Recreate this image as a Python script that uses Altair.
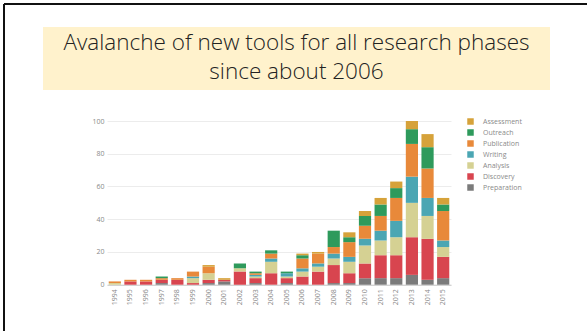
import altair as alt
import pandas as pd

# Tools launched per year, by research phase
years = list(range(1994, 2016))
phases = ["Assessment", "Outreach", "Publication", "Writing",
          "Analysis", "Discovery", "Preparation"]
colors = ["#D6A23A", "#2E9A5C", "#E8893A", "#4BA6B3",
          "#D5D193", "#D8454F", "#7B7B7B"]

preparation = [0, 0, 0, 1, 0, 0, 1, 2, 0, 1, 0, 1, 0, 0, 1, 1, 4, 4, 4, 6, 3, 4]
discovery   = [0, 2, 2, 2, 3, 1, 2, 1, 8, 3, 7, 3, 5, 8, 11, 6, 9, 14, 14, 23, 25, 13]
analysis    = [1, 0, 0, 0, 0, 3, 4, 0, 2, 1, 7, 1, 3, 3, 4, 7, 11, 9, 11, 21, 14, 6]
writing     = [0, 0, 0, 0, 0, 1, 0, 0, 0, 1, 2, 2, 2, 2, 3, 3, 4, 6, 10, 16, 11, 4]
publication = [1, 1, 1, 1, 1, 3, 4, 0, 0, 1, 3, 0, 6, 6, 4, 9, 8, 9, 14, 20, 18, 18]
outreach    = [0, 0, 0, 1, 0, 0, 0, 0, 3, 1, 2, 1, 2, 0, 10, 3, 6, 7, 6, 9, 13, 4]
assessment  = [0, 0, 0, 0, 0, 0, 1, 1, 0, 0, 0, 0, 1, 1, 0, 3, 3, 4, 4, 5, 8, 4]

title_lines = ["Avalanche of new tools for all research phases", "since about 2006"]

series = {
    "Preparation": preparation, "Discovery": discovery, "Analysis": analysis,
    "Writing": writing, "Publication": publication, "Outreach": outreach,
    "Assessment": assessment,
}
stack_rank = {name: i for i, name in enumerate(series)}
rows = []
for name, vals in series.items():
    for yr, v in zip(years, vals):
        rows.append({"year": str(yr), "phase": name, "count": v, "rank": stack_rank[name]})
df = pd.DataFrame(rows)

PLOT_W, PLOT_H = 344, 163.7
LEFT, TOP = 107, 121

bars = alt.Chart(df).mark_bar().encode(
    x=alt.X("year:N", sort=[str(y) for y in years],
            scale=alt.Scale(paddingInner=0.22, paddingOuter=0.11),
            axis=alt.Axis(title=None, labelAngle=270, labelFontSize=7,
                          labelColor="#8a8a8a", labelFont="Open Sans",
                          ticks=False, domainColor="#c8c8c8", labelPadding=4)),
    y=alt.Y("count:Q", stack="zero",
            scale=alt.Scale(domain=[0, 100], nice=False),
            axis=alt.Axis(title=None, values=[0, 20, 40, 60, 80, 100],
                          labelFontSize=7, labelColor="#8a8a8a", labelFont="Open Sans",
                          ticks=False, domain=False, gridColor="#ececec",
                          labelPadding=3)),
    color=alt.Color("phase:N",
                    scale=alt.Scale(domain=phases, range=colors),
                    legend=alt.Legend(title=None, orient="none",
                                      legendX=360, legendY=-4,
                                      symbolType="square", symbolSize=42,
                                      symbolStrokeWidth=0, symbolOpacity=1,
                                      labelFontSize=7, labelColor="#8a8a8a",
                                      labelFont="Open Sans", labelOffset=9,
                                      padding=0, rowPadding=2, clipHeight=9)),
    order=alt.Order("rank:Q", sort="ascending"),
)

one = pd.DataFrame({"k": [0]})

# Slide frame: left and top borders
frame_left = alt.Chart(one).mark_rule(color="#111111", strokeWidth=2).encode(
    x=alt.value(4 - LEFT), y=alt.value(4 - TOP), y2=alt.value(331 - TOP))
frame_top = alt.Chart(one).mark_rule(color="#111111", strokeWidth=2).encode(
    x=alt.value(4 - LEFT), x2=alt.value(590 - LEFT), y=alt.value(4 - TOP))

# Highlighted title box
title_box = alt.Chart(one).mark_rect(color="#FFF2CC").encode(
    x=alt.value(43 - LEFT), x2=alt.value(550 - LEFT),
    y=alt.value(27 - TOP), y2=alt.value(90 - TOP))
title_1 = alt.Chart(one).mark_text(
    text=title_lines[0], font="Open Sans", fontSize=22.5, fontWeight=300,
    color="#222222", align="center", baseline="middle").encode(
    x=alt.value(296.5 - LEFT), y=alt.value(43 - TOP))
title_2 = alt.Chart(one).mark_text(
    text=title_lines[1], font="Open Sans", fontSize=22.5, fontWeight=300,
    color="#222222", align="center", baseline="middle").encode(
    x=alt.value(296.5 - LEFT), y=alt.value(71.5 - TOP))

chart = alt.layer(bars, title_box, title_1, title_2, frame_left, frame_top).properties(
    width=PLOT_W, height=PLOT_H,
    autosize=alt.AutoSizeParams(type="none"),
    padding={"left": LEFT, "top": TOP, "right": 587 - LEFT - PLOT_W,
             "bottom": 335 - TOP - PLOT_H},
    background="white",
).configure_view(strokeWidth=0)

chart.save("out.html", embed_options={"renderer": "svg", "actions": False})
